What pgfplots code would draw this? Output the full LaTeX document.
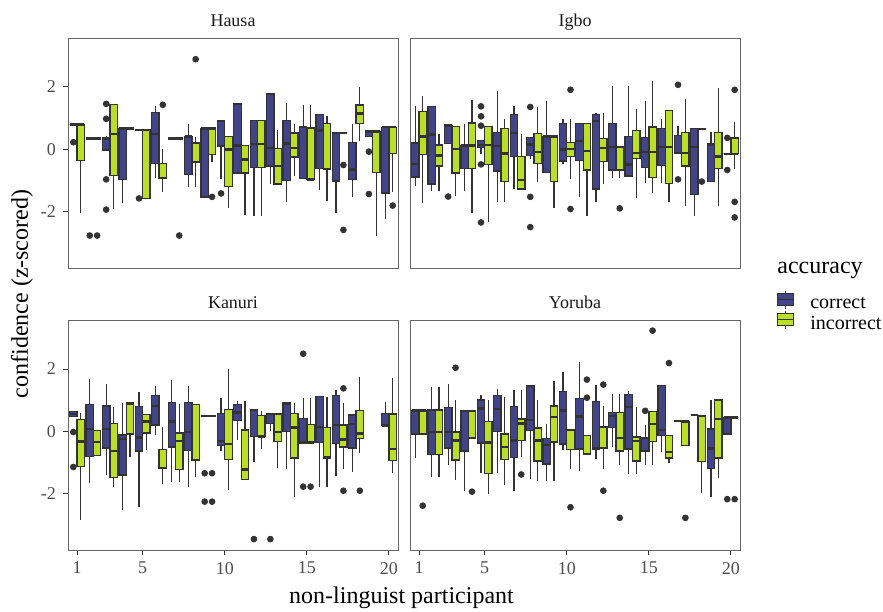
\documentclass[border=0pt]{standalone}
\usepackage{fontspec}
\setmainfont{Liberation Serif}
\usepackage{pgfplots}
\pgfplotsset{compat=1.18}
\usepgfplotslibrary{statistics}
\definecolor{cCor}{HTML}{414487}
\definecolor{cInc}{HTML}{BBDF27}
\definecolor{g10}{HTML}{1A1A1A}
\definecolor{g20}{HTML}{333333}
\definecolor{g30}{HTML}{4D4D4D}

\pgfplotsset{
  panel/.style={
    scale only axis, width=165pt, height=115pt,
    xmin=0.45, xmax=20.55, ymin=-3.8, ymax=3.57,
    axis line style={draw=black!60, line width=0.5pt},
    tick align=outside, major tick length=2.5pt,
    tick style={g20, line width=0.5pt},
    xtick pos=bottom, ytick pos=left,
    xtick={1,5,10,15,20}, xticklabels={1,5,10,15,20},
    ytick={-2,0,2}, yticklabels={-2,0,2},
    ticklabel style={font=\fontsize{9}{10}\selectfont, text=g30},
    title style={at={(0.5,1)}, anchor=base, yshift=0pt, font=\fontsize{9}{10}\selectfont, text=g10},
    boxplot/every median/.style={line width=1.2pt},
    boxplot/every whisker/.style={line width=0.65pt},
  },
  outl/.style={only marks, mark=*, mark size=1.45pt, color=g20},
}
\newcommand{\bxC}[6]{\addplot[draw=g20, fill=cCor, line width=0.65pt, boxplot prepared={draw direction=y, draw position={#1-0.225}, box extend=0.45, whisker extend=0, lower whisker=#2, lower quartile=#3, median=#4, upper quartile=#5, upper whisker=#6}] coordinates {};}
\newcommand{\bxI}[6]{\addplot[draw=g20, fill=cInc, line width=0.65pt, boxplot prepared={draw direction=y, draw position={#1+0.225}, box extend=0.45, whisker extend=0, lower whisker=#2, lower quartile=#3, median=#4, upper quartile=#5, upper whisker=#6}] coordinates {};}

\begin{document}
\begin{tikzpicture}
\useasboundingbox (0,0) rectangle (441.5pt,-305.5pt);

% ---------------- Hausa ----------------
\begin{axis}[panel, at={(34pt,-19pt)}, anchor=north west, xtick=\empty, title=Hausa]
\bxC{1}{0.80}{0.80}{0.80}{0.80}{0.80}
\bxI{1}{-2.05}{-0.35}{0.80}{0.80}{0.80}
\bxC{2}{0.35}{0.35}{0.35}{0.35}{0.35}
\bxI{2}{0.35}{0.35}{0.35}{0.35}{0.35}
\bxC{3}{-0.02}{-0.02}{0.35}{0.35}{0.42}
\bxI{3}{-1.91}{-0.83}{0.50}{1.43}{1.43}
\bxC{4}{-1.73}{-0.96}{0.67}{0.67}{0.67}
\bxI{4}{0.67}{0.67}{0.67}{0.67}{0.67}
\bxC{5}{0.62}{0.62}{0.62}{0.62}{0.62}
\bxI{5}{-1.57}{-1.57}{0.62}{0.62}{0.62}
\bxC{6}{-0.90}{-0.45}{0.50}{1.19}{1.40}
\bxI{6}{-1.38}{-0.92}{-0.92}{-0.45}{0.02}
\bxC{7}{0.35}{0.35}{0.35}{0.35}{0.35}
\bxI{7}{0.35}{0.35}{0.35}{0.35}{0.35}
\bxC{8}{-1.19}{-0.80}{0.42}{0.42}{0.82}
\bxI{8}{-1.19}{-0.40}{0.21}{0.21}{0.40}
\bxC{9}{-1.52}{-1.52}{0.67}{0.67}{0.67}
\bxI{9}{-0.40}{-0.16}{0.67}{0.67}{0.67}
\bxC{10}{-0.96}{0.11}{0.92}{0.92}{0.92}
\bxI{10}{-1.89}{-1.19}{0.00}{0.42}{0.42}
\bxC{11}{-0.76}{-0.76}{0.13}{1.46}{1.46}
\bxI{11}{-2.10}{-0.76}{-0.32}{0.13}{0.13}
\bxC{12}{-2.12}{-0.59}{0.18}{0.93}{0.93}
\bxI{12}{-2.12}{-0.59}{0.18}{0.93}{0.93}
\bxC{13}{-1.11}{-0.53}{0.05}{1.78}{1.78}
\bxI{13}{-1.11}{-1.11}{-0.53}{0.03}{0.61}
\bxC{14}{-1.70}{-0.99}{0.19}{0.92}{1.49}
\bxI{14}{-0.85}{-0.24}{0.05}{0.53}{0.83}
\bxC{15}{-0.93}{-0.93}{0.71}{0.71}{1.42}
\bxI{15}{-0.96}{-0.96}{-0.96}{0.69}{1.42}
\bxC{16}{-1.30}{-0.62}{0.61}{1.11}{1.11}
\bxI{16}{-1.65}{-0.62}{-0.62}{0.83}{1.08}
\bxC{17}{-2.05}{-1.01}{0.53}{0.53}{0.53}
\bxI{17}{0.53}{0.53}{0.53}{0.53}{0.53}
\bxC{18}{-1.52}{-0.96}{-0.64}{0.23}{0.83}
\bxI{18}{0.27}{0.83}{1.15}{1.42}{2.00}
\bxC{19}{0.42}{0.42}{0.58}{0.58}{0.58}
\bxI{19}{-2.76}{-0.74}{0.58}{0.58}{0.58}
\bxC{20}{-2.23}{-1.40}{0.71}{0.71}{0.71}
\bxI{20}{-1.38}{-0.13}{0.71}{0.71}{0.71}
\addplot[outl] coordinates {(0.775,0.23) (1.775,-2.76) (2.225,-2.76)
 (2.775,1.46) (2.775,0.98) (2.775,-0.96) (2.775,-1.93) (4.775,-1.57)
 (6.225,1.43) (7.225,-2.76) (8.225,2.89) (9.225,-1.52) (9.775,-1.41)
 (17.225,-0.50) (17.225,-2.58) (18.775,-0.07) (18.775,-1.43) (20.225,-1.80)};
\end{axis}

% ---------------- Igbo ----------------
\begin{axis}[panel, at={(205pt,-19pt)}, anchor=north west, xtick=\empty, ytick=\empty, title=Igbo,
  legend style={draw=none, fill=none, inner sep=0pt, at={(axis description cs:1.112,-0.095)}, anchor=north west,
    font=\fontsize{10}{12}\selectfont, nodes={inner sep=0pt}, column sep=8pt, row sep=-0.5pt},
  legend cell align=left,
  legend image code/.code={
    \draw[#1, line width=0.5pt] (4pt,-2.2pt) -- (4pt,6.8pt);
    \draw[#1, line width=0.5pt] (0pt,-0.7pt) rectangle (8pt,5.3pt);
    \draw[#1, line width=0.5pt, fill=none] (0pt,2.3pt) -- (8pt,2.3pt);
  }]
\addlegendimage{draw=g20, fill=cCor}
\addlegendentry{correct}
\addlegendimage{draw=g20, fill=cInc}
\addlegendentry{incorrect}
\bxC{1}{-1.17}{-0.88}{-0.46}{0.21}{1.40}
\bxI{1}{-1.73}{-0.16}{0.42}{1.22}{1.70}
\bxC{2}{-1.33}{-1.11}{0.48}{1.38}{1.38}
\bxI{2}{-1.33}{-0.53}{-0.19}{0.14}{0.48}
\bxC{3}{0.19}{0.19}{0.77}{0.77}{0.77}
\bxI{3}{-1.49}{-0.76}{0.02}{0.74}{0.74}
\bxC{4}{-1.33}{-0.61}{0.13}{0.13}{0.83}
\bxI{4}{-2.04}{-0.61}{0.13}{0.85}{1.57}
\bxC{5}{-0.16}{0.07}{0.14}{0.29}{0.29}
\bxI{5}{-2.31}{-0.48}{0.14}{0.74}{0.74}
\bxC{6}{-1.68}{-0.69}{0.11}{0.55}{1.88}
\bxI{6}{-1.68}{-1.03}{-0.13}{0.66}{0.98}
\bxC{7}{-1.27}{-0.23}{0.53}{1.11}{1.38}
\bxI{7}{-1.27}{-1.27}{-0.98}{-0.23}{0.48}
\bxC{8}{-0.32}{-0.19}{0.16}{0.39}{0.39}
\bxI{8}{-1.03}{-0.45}{-0.08}{0.51}{1.35}
\bxC{9}{-0.74}{-0.74}{0.42}{0.42}{1.56}
\bxI{9}{-1.88}{-1.03}{0.42}{0.42}{0.42}
\bxC{10}{-0.48}{-0.37}{0.00}{0.83}{0.96}
\bxI{10}{-0.96}{-0.23}{0.02}{0.23}{0.96}
\bxC{11}{-1.54}{-0.35}{0.27}{0.83}{0.83}
\bxI{11}{-2.12}{-0.66}{-0.05}{0.83}{0.83}
\bxC{12}{-1.68}{-1.27}{0.92}{1.11}{1.17}
\bxI{12}{-1.11}{-0.39}{0.05}{0.34}{1.17}
\bxC{13}{-0.90}{-0.66}{0.08}{0.82}{2.04}
\bxI{13}{-0.90}{-0.66}{0.08}{0.08}{0.08}
\bxC{14}{-0.85}{-0.85}{-0.48}{0.42}{2.04}
\bxI{14}{-1.57}{-0.30}{-0.11}{0.61}{1.31}
\bxC{15}{-1.08}{-0.58}{-0.08}{0.39}{1.54}
\bxI{15}{-1.40}{-0.90}{-0.08}{0.72}{2.20}
\bxC{16}{-1.08}{-0.51}{0.08}{0.67}{0.96}
\bxI{16}{-1.68}{-1.09}{0.08}{1.25}{1.25}
\bxC{17}{-0.11}{-0.11}{-0.11}{0.45}{0.76}
\bxI{17}{-1.80}{-0.53}{-0.11}{0.55}{1.61}
\bxC{18}{-2.12}{-1.45}{0.08}{0.66}{0.66}
\bxI{18}{0.66}{0.66}{0.66}{0.66}{0.66}
\bxC{19}{-1.03}{-1.03}{0.16}{0.16}{0.55}
\bxI{19}{-1.80}{-0.62}{-0.23}{0.55}{1.96}
\bxC{20}{-0.14}{-0.14}{-0.14}{-0.14}{-0.14}
\bxI{20}{-0.64}{-0.14}{-0.14}{0.37}{0.87}
\addplot[outl] coordinates {(2.775,-1.51)
 (4.775,1.38) (4.775,1.06) (4.775,0.76) (4.775,-0.48) (4.775,-2.34)
 (7.775,1.36) (7.775,-1.52) (7.775,-2.49) (10.225,1.91) (10.225,-1.91)
 (13.225,-1.89) (16.775,2.07) (16.775,-0.96) (18.225,-1.03)
 (19.775,0.37) (19.775,-0.66) (20.225,1.91) (20.225,-1.68) (20.225,-2.18)};
\end{axis}

% ---------------- Kanuri ----------------
\begin{axis}[panel, at={(34pt,-160pt)}, anchor=north west, title=Kanuri]
\bxC{1}{0.48}{0.48}{0.55}{0.63}{0.63}
\bxI{1}{-2.84}{-1.13}{-0.32}{0.39}{0.60}
\bxC{2}{-1.64}{-0.81}{0.07}{0.87}{1.67}
\bxI{2}{-0.77}{-0.77}{-0.34}{0.03}{0.03}
\bxC{3}{-1.40}{-0.53}{0.07}{0.81}{1.51}
\bxI{3}{-1.77}{-1.48}{-0.63}{0.26}{0.79}
\bxC{4}{-2.52}{-1.40}{-0.24}{-0.11}{0.90}
\bxI{4}{-0.83}{-0.08}{0.90}{0.92}{0.92}
\bxC{5}{-2.41}{-0.63}{-0.19}{0.79}{1.27}
\bxI{5}{-0.58}{-0.05}{0.32}{0.55}{0.55}
\bxC{6}{-0.11}{0.21}{0.81}{1.14}{1.46}
\bxI{6}{-1.69}{-1.19}{-1.17}{-0.58}{0.13}
\bxC{7}{-1.61}{-0.50}{0.32}{0.92}{1.64}
\bxI{7}{-1.61}{-1.22}{-0.30}{-0.05}{0.87}
\bxC{8}{-1.78}{-0.61}{-0.02}{0.92}{1.46}
\bxI{8}{-1.45}{-0.92}{-0.92}{0.87}{0.87}
\bxC{9}{0.50}{0.50}{0.50}{0.50}{0.50}
\bxI{9}{0.50}{0.50}{0.50}{0.50}{0.50}
\bxC{10}{-0.63}{-0.46}{-0.30}{0.58}{1.06}
\bxI{10}{-1.87}{-0.90}{-0.40}{0.71}{2.01}
\bxC{11}{-0.26}{0.34}{0.61}{0.87}{0.98}
\bxI{11}{-1.53}{-1.53}{-1.22}{0.05}{0.97}
\bxC{12}{-0.97}{-0.16}{0.69}{0.69}{0.69}
\bxI{12}{-0.55}{-0.16}{-0.16}{0.51}{0.66}
\bxC{13}{0.00}{0.26}{0.56}{0.56}{0.56}
\bxI{13}{-1.16}{-0.32}{-0.02}{0.56}{0.56}
\bxC{14}{-1.22}{0.00}{0.87}{0.92}{0.92}
\bxI{14}{-2.10}{-0.85}{0.13}{0.58}{0.90}
\bxC{15}{-0.35}{-0.35}{-0.35}{0.42}{1.06}
\bxI{15}{-0.35}{-0.35}{-0.35}{0.23}{1.06}
\bxC{16}{-1.78}{-0.35}{0.14}{1.11}{1.11}
\bxI{16}{-1.78}{-0.83}{-0.83}{0.13}{1.11}
\bxC{17}{-1.43}{-0.39}{0.21}{1.14}{1.32}
\bxI{17}{-1.19}{-0.50}{-0.26}{0.21}{0.90}
\bxC{18}{-1.29}{-0.53}{0.23}{0.53}{0.53}
\bxI{18}{-0.69}{-0.23}{-0.07}{0.67}{1.75}
\bxC{20}{0.19}{0.19}{0.19}{0.58}{0.93}
\bxI{20}{-1.32}{-0.93}{-0.56}{0.56}{1.71}
\addplot[outl] coordinates {(0.775,-0.02) (0.775,-1.14)
 (8.775,-1.34) (8.775,-2.25) (9.225,-1.34) (9.225,-2.25)
 (11.775,-3.45) (12.775,-3.45) (14.775,2.49) (14.775,-1.77) (15.225,-1.77)
 (17.225,1.38) (17.225,-1.90) (18.225,-1.90)};
\end{axis}

% ---------------- Yoruba ----------------
\begin{axis}[panel, at={(205pt,-160pt)}, anchor=north west, ytick=\empty, title=Yoruba]
\bxC{1}{-0.85}{-0.08}{0.67}{0.67}{0.67}
\bxI{1}{-0.08}{-0.08}{0.67}{0.67}{0.67}
\bxC{2}{-1.45}{-0.74}{-0.02}{0.69}{1.43}
\bxI{2}{-1.45}{-0.74}{-0.02}{0.69}{1.43}
\bxC{3}{-1.06}{-0.53}{-0.02}{0.76}{1.51}
\bxI{3}{-1.56}{-0.92}{-0.29}{-0.02}{1.01}
\bxC{4}{-1.90}{-0.63}{0.66}{0.66}{0.66}
\bxI{4}{-0.21}{-0.21}{0.66}{0.66}{0.66}
\bxC{5}{-1.32}{-0.37}{0.74}{1.01}{1.16}
\bxI{5}{-2.01}{-1.34}{-0.35}{0.32}{1.01}
\bxC{6}{-1.32}{0.00}{0.72}{1.14}{1.35}
\bxI{6}{-1.71}{-0.90}{-0.50}{-0.08}{1.11}
\bxC{7}{-1.90}{-0.83}{-0.29}{0.79}{1.32}
\bxI{7}{-0.83}{-0.29}{0.26}{0.40}{1.32}
\bxC{8}{-1.51}{0.03}{0.37}{1.46}{1.46}
\bxI{8}{-1.59}{-0.95}{-0.29}{0.11}{1.01}
\bxC{9}{-1.59}{-1.04}{-0.44}{-0.23}{0.23}
\bxI{9}{-1.59}{-0.34}{0.46}{0.81}{1.61}
\bxC{10}{-0.58}{-0.40}{0.67}{1.29}{1.90}
\bxI{10}{-1.19}{-0.58}{0.05}{0.05}{0.05}
\bxC{11}{-1.27}{-0.56}{0.48}{1.06}{2.24}
\bxI{11}{-0.72}{-0.72}{-0.72}{-0.13}{-0.13}
\bxC{12}{-0.87}{-0.55}{-0.55}{0.95}{1.48}
\bxI{12}{-1.22}{-0.53}{0.14}{0.14}{0.81}
\bxC{13}{-0.51}{0.13}{0.50}{0.61}{1.19}
\bxI{13}{-1.06}{-0.63}{-0.21}{0.61}{1.19}
\bxC{14}{-1.35}{-0.56}{0.79}{1.19}{1.29}
\bxI{14}{-1.35}{-0.95}{-0.30}{-0.18}{0.79}
\bxC{15}{-1.06}{-0.63}{-0.21}{-0.21}{0.21}
\bxI{15}{-1.06}{-0.32}{0.23}{0.63}{0.63}
\bxC{16}{-0.66}{-0.14}{0.05}{1.48}{1.48}
\bxI{16}{-1.01}{-0.85}{-0.66}{-0.14}{-0.14}
\bxC{17}{0.34}{0.34}{0.34}{0.34}{0.34}
\bxI{17}{-0.44}{-0.44}{0.32}{0.32}{0.32}
\bxC{18}{0.53}{0.53}{0.53}{0.53}{0.53}
\bxI{18}{-1.96}{-0.97}{0.50}{0.50}{0.50}
\bxC{19}{-2.10}{-1.19}{-0.55}{0.08}{1.01}
\bxI{19}{-1.48}{-0.85}{0.39}{1.01}{1.01}
\bxC{20}{-0.08}{-0.08}{0.44}{0.44}{0.44}
\bxI{20}{0.44}{0.44}{0.44}{0.44}{0.44}
\addplot[outl] coordinates {(1.225,-2.38) (3.225,2.04) (4.225,-1.93)
 (7.225,-1.38) (10.225,-2.43) (11.225,1.66) (11.225,1.08)
 (12.225,1.50) (12.225,-1.90) (13.225,-2.77) (14.775,0.66) (15.225,3.23)
 (16.225,2.19) (17.225,-2.77) (19.775,-2.17) (20.225,-2.17)};
\end{axis}

% titles and legend heading
\node[rotate=90, anchor=center, font=\fontsize{12}{14}\selectfont] at (11pt,-147pt) {confidence (z-scored)};
\node[anchor=base, font=\fontsize{12}{14}\selectfont] at (200.75pt,-301.5pt) {non-linguist participant};
\node[anchor=base west, font=\fontsize{12}{14}\selectfont, inner sep=0pt] at (388.5pt,-136.75pt) {accuracy};
\end{tikzpicture}
\end{document}
